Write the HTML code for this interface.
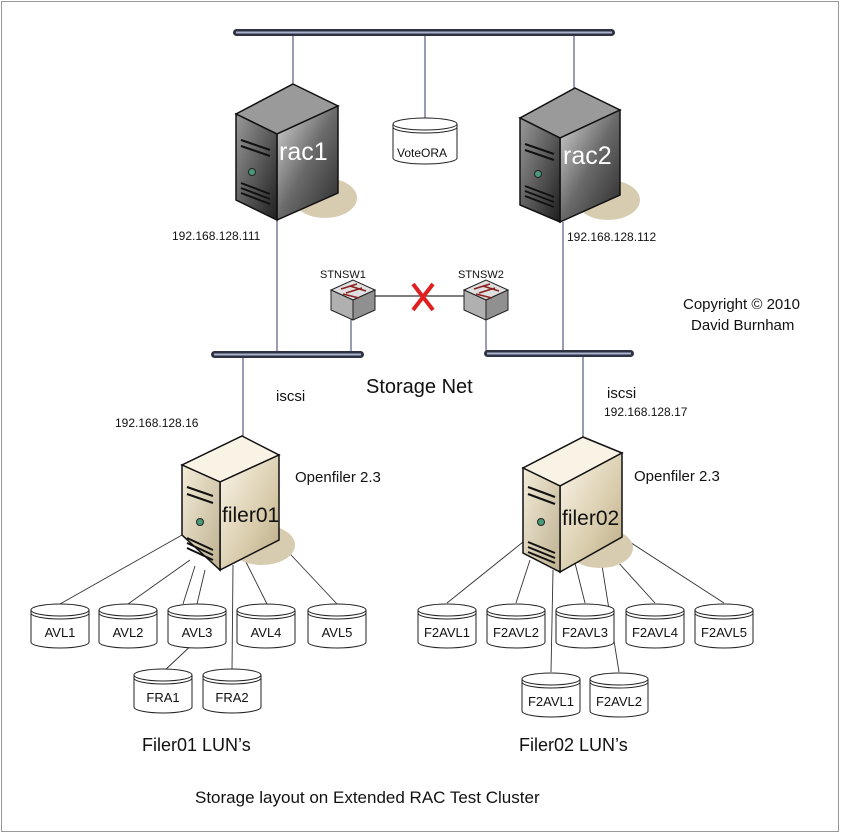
<!DOCTYPE html>
<html><head><meta charset="utf-8"><style>
body{margin:0;background:#fff}
text{font-family:"Liberation Sans",Arial,sans-serif;fill:#111}
</style></head><body>
<svg width="841" height="834" viewBox="0 0 841 834" xmlns="http://www.w3.org/2000/svg">
<defs>
<linearGradient id="gd" x1="0" y1="0" x2="1" y2="1"><stop offset="0" stop-color="#d8d8d8"/><stop offset="0.5" stop-color="#6a6a6a"/><stop offset="1" stop-color="#2a2a2a"/></linearGradient>
<linearGradient id="gdf" x1="0" y1="0" x2="1" y2="1"><stop offset="0" stop-color="#999"/><stop offset="1" stop-color="#1e1e1e"/></linearGradient>
<linearGradient id="gb" x1="0" y1="0" x2="1" y2="1"><stop offset="0" stop-color="#fbf6ea"/><stop offset="0.6" stop-color="#d9ccac"/><stop offset="1" stop-color="#b8a982"/></linearGradient>
<linearGradient id="gbf" x1="0" y1="0" x2="1" y2="1"><stop offset="0" stop-color="#f3ecd8"/><stop offset="1" stop-color="#bdb090"/></linearGradient>
<g id="disk"><path d="M-29,-16 L-29,16 A29,6 0 0 0 29,16 L29,-16" fill="#fff" stroke="#222" stroke-width="1"/><ellipse cx="0" cy="-16" rx="29" ry="6" fill="#fff" stroke="#222"/><path d="M-29,-13 A29,6 0 0 0 29,-13" fill="none" stroke="#222"/></g>
<g id="sw">
<polygon points="-22,-10 0,-20 22,-10 0,0" fill="#e0e0e0" stroke="#222"/>
<polygon points="-22,-10 0,0 0,20 -22,10" fill="#b0b0b0" stroke="#222"/>
<polygon points="0,0 22,-10 22,10 0,20" fill="#909090" stroke="#222"/>
<path d="M-12,-11 L4,-16 M-7,-7 L9,-12 M-3,-14 L13,-9 M-10,-6 L6,-2" stroke="#8a2020" stroke-width="1.5"/>
</g>
</defs>
<rect x="1.5" y="1.5" width="837" height="830" fill="none" stroke="#999"/>

<rect x="233" y="29" width="382" height="7" rx="3.5" fill="#2e3242"/><line x1="236" y1="32.5" x2="612" y2="32.5" stroke="#aab4d0" stroke-width="2"/>
<g stroke="#333a66" stroke-width="1">
<line x1="293" y1="36" x2="293" y2="90"/><line x1="425" y1="36" x2="425" y2="118"/><line x1="574" y1="36" x2="574" y2="94"/>
<line x1="277" y1="220" x2="277" y2="355"/><line x1="563" y1="222" x2="563" y2="354"/>
<line x1="351" y1="318" x2="351" y2="355"/><line x1="486" y1="318" x2="486" y2="354"/>
<line x1="243" y1="355" x2="243" y2="436"/><line x1="583" y1="354" x2="583" y2="438"/>
</g>
<line x1="372" y1="296" x2="468" y2="296" stroke="#555" stroke-width="1.5"/>
<g stroke="#e02020" stroke-width="4"><line x1="413" y1="284" x2="433" y2="310"/><line x1="433" y1="284" x2="413" y2="310"/></g>

<rect x="211" y="351" width="153" height="7" rx="3.5" fill="#2e3242"/><line x1="214" y1="354.5" x2="361" y2="354.5" stroke="#aab4d0" stroke-width="2"/>
<rect x="484" y="350" width="150" height="7" rx="3.5" fill="#2e3242"/><line x1="487" y1="353.5" x2="631" y2="353.5" stroke="#aab4d0" stroke-width="2"/>

<g transform="translate(425,140)"><path d="M-32,-16 L-32,18 A32,6 0 0 0 32,18 L32,-16" fill="#fff" stroke="#222"/><ellipse cx="0" cy="-16" rx="32" ry="6" fill="#fff" stroke="#222"/><path d="M-32,-13 A32,6 0 0 0 32,-13" fill="none" stroke="#222"/></g>
<text x="397" y="157" font-size="12">VoteORA</text>

<g>
<ellipse cx="325" cy="198" rx="32" ry="20" fill="#d8ccb0"/>
<polygon points="293,84 338,106 277,134 236,114" fill="#9a9a9a" stroke="#111" stroke-width="1.5"/>
<polygon points="277,134 338,106 338,193 277,220" fill="url(#gd)" stroke="#111" stroke-width="1.5"/>
<polygon points="236,114 277,134 277,220 236,200" fill="url(#gdf)" stroke="#111" stroke-width="1.5"/>
<path d="M241,140 L270,150 M241,146 L270,156 M241,183 L270,194 M241,188 L270,199 M241,193 L270,204" stroke="#111" stroke-width="2"/>
<circle cx="252" cy="172" r="3.5" fill="#4a9a7a" stroke="#222"/>
<text x="279" y="160" font-size="25" style="fill:#fff">rac1</text>
</g>
<g>
<ellipse cx="608" cy="200" rx="32" ry="20" fill="#d8ccb0"/>
<polygon points="575,88 620,110 560,138 520,118" fill="#9a9a9a" stroke="#111" stroke-width="1.5"/>
<polygon points="560,138 620,110 620,195 560,222" fill="url(#gd)" stroke="#111" stroke-width="1.5"/>
<polygon points="520,118 560,138 560,222 520,205" fill="url(#gdf)" stroke="#111" stroke-width="1.5"/>
<path d="M525,144 L554,154 M525,150 L554,160 M525,186 L554,197 M525,191 L554,202 M525,196 L554,207" stroke="#111" stroke-width="2"/>
<circle cx="538" cy="174" r="3.5" fill="#4a9a7a" stroke="#222"/>
<text x="563" y="164" font-size="25" style="fill:#fff">rac2</text>
</g>

<g stroke="#333" stroke-width="0.9">
<line x1="182" y1="535" x2="60" y2="604"/><line x1="190" y1="560" x2="128" y2="604"/>
<line x1="195" y1="566" x2="183" y2="604"/><line x1="205" y1="570" x2="197" y2="604"/>
<line x1="197" y1="640" x2="163" y2="672"/><line x1="233" y1="565" x2="232" y2="672"/>
<line x1="244" y1="558" x2="267" y2="604"/><line x1="277" y1="540" x2="337" y2="604"/>
<line x1="523" y1="542" x2="447" y2="603"/><line x1="530" y1="560" x2="516" y2="603"/>
<line x1="553" y1="570" x2="551" y2="672"/><line x1="575" y1="563" x2="585" y2="603"/>
<line x1="600" y1="553" x2="619" y2="672"/><line x1="607" y1="550" x2="655" y2="603"/>
<line x1="622" y1="537" x2="724" y2="603"/>
</g>
<g>
<ellipse cx="262" cy="545" rx="33" ry="20" fill="#d8ccb0"/>
<polygon points="242,436 279,455 220,482 182,465" fill="#f8f3e4" stroke="#111" stroke-width="1.5"/>
<polygon points="220,482 279,455 279,540 220,570" fill="url(#gb)" stroke="#111" stroke-width="1.5"/>
<polygon points="182,465 220,482 220,570 182,535" fill="url(#gbf)" stroke="#111" stroke-width="1.5"/>
<path d="M187,487 L213,496 M187,494 L213,503 M187,538 L213,550 M187,543 L213,555 M187,548 L213,560" stroke="#111" stroke-width="2"/>
<circle cx="200" cy="522" r="3.5" fill="#4a9a7a" stroke="#222"/>
<text x="222" y="522" font-size="21">filer01</text>
</g>
<g>
<ellipse cx="600" cy="548" rx="33" ry="20" fill="#d8ccb0"/>
<polygon points="583,437 622,453 560,486 523,468" fill="#f8f3e4" stroke="#111" stroke-width="1.5"/>
<polygon points="560,486 622,453 622,537 560,572" fill="url(#gb)" stroke="#111" stroke-width="1.5"/>
<polygon points="523,468 560,486 560,572 523,553" fill="url(#gbf)" stroke="#111" stroke-width="1.5"/>
<path d="M528,487 L555,497 M528,494 L555,504 M528,542 L555,553 M528,547 L555,558 M528,552 L555,563" stroke="#111" stroke-width="2"/>
<circle cx="541" cy="522" r="3.5" fill="#4a9a7a" stroke="#222"/>
<text x="562" y="525" font-size="21">filer02</text>
</g>

<use href="#sw" x="353" y="300"/><use href="#sw" x="486" y="300"/>

<use href="#disk" x="60" y="626"/><use href="#disk" x="128" y="626"/><use href="#disk" x="197" y="626"/><use href="#disk" x="266" y="626"/><use href="#disk" x="337" y="626"/>
<use href="#disk" x="163" y="691"/><use href="#disk" x="232" y="691"/>
<use href="#disk" x="447" y="626"/><use href="#disk" x="516" y="626"/><use href="#disk" x="585" y="626"/><use href="#disk" x="655" y="626"/><use href="#disk" x="724" y="626"/>
<use href="#disk" x="551" y="695"/><use href="#disk" x="619" y="695"/>
<g font-size="13" text-anchor="middle">
<text x="60" y="637">AVL1</text><text x="128" y="637">AVL2</text><text x="197" y="637">AVL3</text><text x="266" y="637">AVL4</text><text x="337" y="637">AVL5</text>
<text x="163" y="702">FRA1</text><text x="232" y="702">FRA2</text>
<text x="447" y="637">F2AVL1</text><text x="516" y="637">F2AVL2</text><text x="585" y="637">F2AVL3</text><text x="655" y="637">F2AVL4</text><text x="724" y="637">F2AVL5</text>
<text x="551" y="706">F2AVL1</text><text x="619" y="706">F2AVL2</text>
</g>

<text x="172" y="240" font-size="12">192.168.128.111</text>
<text x="567" y="241" font-size="12">192.168.128.112</text>
<text x="320" y="278" font-size="11">STNSW1</text>
<text x="458" y="278" font-size="11">STNSW2</text>
<text x="683" y="309" font-size="15">Copyright © 2010</text>
<text x="691" y="330" font-size="15">David Burnham</text>
<text x="366" y="393" font-size="20">Storage Net</text>
<text x="276" y="401" font-size="15">iscsi</text>
<text x="115" y="427" font-size="12">192.168.128.16</text>
<text x="607" y="398" font-size="15">iscsi</text>
<text x="604" y="416" font-size="12">192.168.128.17</text>
<text x="295" y="482" font-size="15">Openfiler 2.3</text>
<text x="634" y="481" font-size="15">Openfiler 2.3</text>
<text x="142" y="751" font-size="18">Filer01 LUN’s</text>
<text x="519" y="751" font-size="18">Filer02 LUN’s</text>
<text x="195" y="803" font-size="17">Storage layout on Extended  RAC Test Cluster</text>
</svg>
</body></html>
